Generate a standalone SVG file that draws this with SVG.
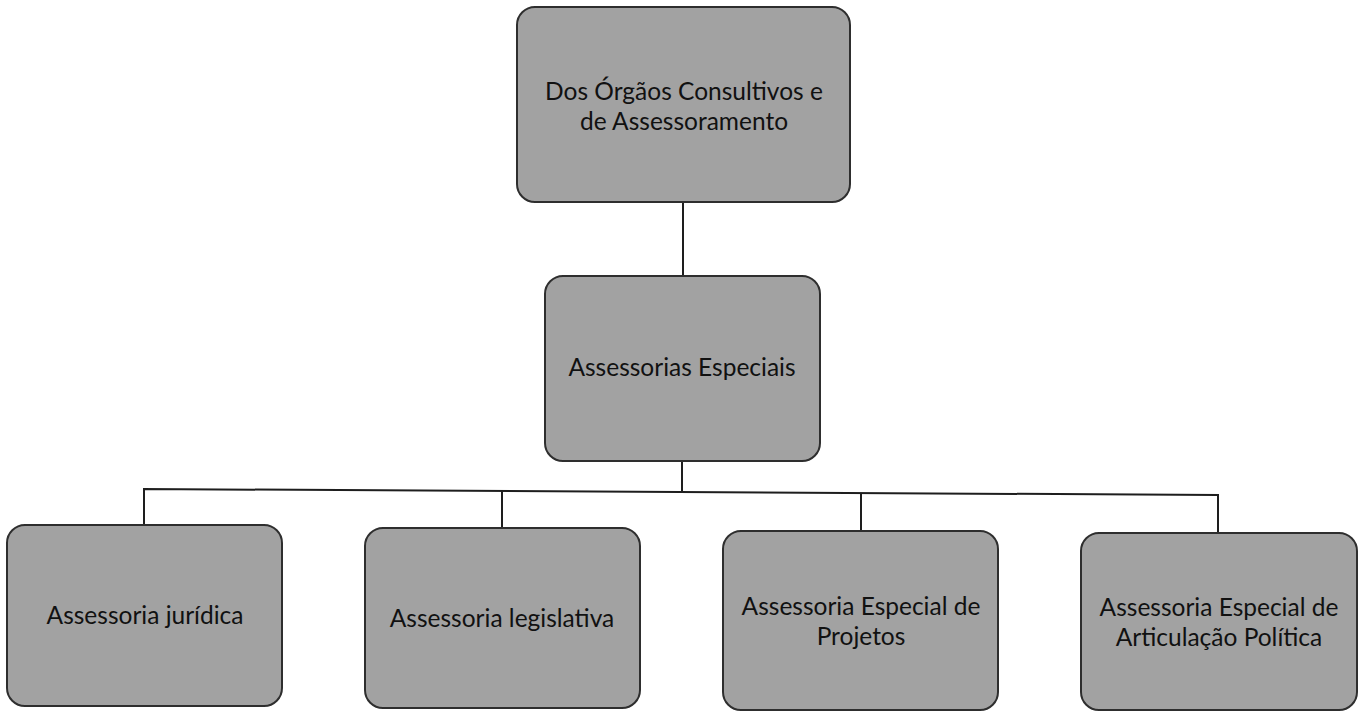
<svg xmlns="http://www.w3.org/2000/svg" width="1364" height="711" viewBox="0 0 1364 711">
  <style>
    .box { fill: #a2a2a2; stroke: #2e2e2e; stroke-width: 2; }
    .lbl { font-family: Lato, "Open Sans", "Liberation Sans", sans-serif; font-size: 24.5px; fill: #111; text-anchor: middle; }
    .conn { fill: none; stroke: #1e1e1e; stroke-width: 2; }
  </style>
  <rect x="0" y="0" width="1364" height="711" fill="#ffffff"/>
  <g id="connectors">
    <line class="conn" x1="683" y1="202" x2="683" y2="276"/>
    <line class="conn" x1="682" y1="461" x2="682" y2="491"/>
    <polyline class="conn" points="144,525 144,489 1218,495 1218,533"/>
    <line class="conn" x1="502" y1="490" x2="502" y2="528"/>
    <line class="conn" x1="861" y1="493" x2="861" y2="531"/>
  </g>
  <g id="node-orgaos">
    <rect class="box" x="517" y="7" width="333" height="195" rx="18"/>
    <text class="lbl" x="684" y="100">Dos Órgãos Consultivos e</text>
    <text class="lbl" x="684" y="130">de Assessoramento</text>
  </g>
  <g id="node-assessorias">
    <rect class="box" x="545" y="276" width="275" height="185" rx="18"/>
    <text class="lbl" x="682" y="376">Assessorias Especiais</text>
  </g>
  <g id="node-juridica">
    <rect class="box" x="7" y="525" width="275" height="181" rx="18"/>
    <text class="lbl" x="145" y="624">Assessoria jurídica</text>
  </g>
  <g id="node-legislativa">
    <rect class="box" x="365" y="528" width="275" height="180" rx="18"/>
    <text class="lbl" x="502" y="627">Assessoria legislativa</text>
  </g>
  <g id="node-projetos">
    <rect class="box" x="723" y="531" width="275" height="179" rx="18"/>
    <text class="lbl" x="861" y="615">Assessoria Especial de</text>
    <text class="lbl" x="861" y="645">Projetos</text>
  </g>
  <g id="node-articulacao">
    <rect class="box" x="1081" y="533" width="276" height="177" rx="18"/>
    <text class="lbl" x="1219" y="616">Assessoria Especial de</text>
    <text class="lbl" x="1219" y="646">Articulação Política</text>
  </g>
</svg>
